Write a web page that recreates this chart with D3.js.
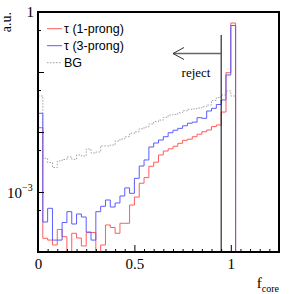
<!DOCTYPE html>
<html>
<head>
<meta charset="utf-8">
<script src="https://cdn.jsdelivr.net/npm/d3@7"></script>
<style>
  html, body { margin: 0; padding: 0; background: #fff; }
  svg { display: block; }
</style>
</head>
<body>
<svg id="chart"></svg>
<script>
// f_core histograms, 50 bins of 0.025 from 0 to 1.25
const binWidth = 0.025;
const oneProng = [0.0118, 1.69e-4, 1.58e-4, 1.31e-4, 2.37e-4, 1.80e-4, 0, 2.05e-4, 1.71e-4, 1.26e-4,
    2.11e-4, 2.11e-4, 0, 1.31e-4, 2.82e-4, 2.56e-4, 2.05e-4, 3.01e-4, 3.01e-4, 6.07e-4,
    8.25e-4, 1.40e-3, 1.74e-3, 2.68e-3, 3.14e-3, 4.14e-3, 4.82e-3, 5.25e-3, 5.78e-3, 6.48e-3,
    7.27e-3, 7.59e-3, 8.35e-3, 9.19e-3, 0.0101, 0.0108, 0.0123, 0.0131, 0.0215, 0.0973,
    0.655, 0, 0, 0, 0, 0, 0, 0, 0, 0];
const threeProng = [0.0205, 3.16e-4, 5.35e-4, 1.58e-4, 1.58e-4, 3.10e-4, 4.70e-4, 2.93e-4, 4.30e-4, 3.83e-4,
    2.15e-4, 1.58e-4, 4.70e-4, 5.78e-4, 7.36e-4, 5.62e-4, 6.56e-4, 8.58e-4, 1.17e-3, 9.51e-4,
    1.69e-3, 2.71e-3, 3.42e-3, 5.62e-3, 6.56e-3, 7.36e-3, 8.35e-3, 9.73e-3, 0.0107, 0.0115,
    0.0127, 0.0140, 0.0146, 0.0173, 0.0169, 0.0224, 0.0248, 0.0287, 0.0342, 0.0891,
    0.596, 0, 0, 0, 0, 0, 0, 0, 0, 0];
const background = [0.0398, 3.65e-3, 3.10e-3, 2.56e-3, 3.29e-3, 3.48e-3, 3.83e-3, 3.51e-3, 4.14e-3, 3.98e-3,
    5.21e-3, 4.47e-3, 4.64e-3, 5.85e-3, 5.85e-3, 6.07e-3, 7.08e-3, 7.64e-3, 8.35e-3, 9.51e-3,
    0.0101, 0.0113, 0.0121, 0.0136, 0.0149, 0.0158, 0.0176, 0.0192, 0.0196, 0.0210,
    0.0226, 0.0239, 0.0243, 0.0251, 0.0264, 0.0282, 0.0335, 0.0376, 0.0414, 0.0483,
    0.0398, 0, 0, 0, 0, 0, 0, 0, 0, 0];

const legendLabels = ['\u03c4 (1-prong)', '\u03c4 (3-prong)', 'BG'];
const cutValue = 0.95;
const xMajorTicks = [0, 0.5, 1];
const yMajorTicks = [1, 0.1, 0.01, 0.001, 0.0001];
const yMinorTicks = [0.5, 0.05, 0.005, 0.0005];

const W = 294, H = 294;
const margin = { top: 12, right: 15, bottom: 42, left: 38 };

const svg = d3.select('#chart')
    .attr('width', W)
    .attr('height', H);

const x = d3.scaleLinear()
    .domain([0, 1.25])
    .range([margin.left, W - margin.right]);

const y = d3.scaleLog()
    .domain([1e-4, 1])
    .range([H - margin.bottom, margin.top]);

const yv = v => y(Math.max(v, 1e-4));

function stepPath(values) {
    let d = `M${x(0)},${yv(values[0])}`;
    values.forEach((v, i) => {
        d += `L${x(i * binWidth)},${yv(v)}L${x((i + 1) * binWidth)},${yv(v)}`;
    });
    return d;
}

const series = [
    { label: legendLabels[0], values: oneProng, color: '#ff5c5c', dash: null },
    { label: legendLabels[1], values: threeProng, color: '#5c5cff', dash: null },
    { label: legendLabels[2], values: background, color: '#a0a0a0', dash: '1.5,1.5' }
];

// draw background first, then signal
[series[2], series[0], series[1]].forEach(s => {
    svg.append('path')
        .attr('d', stepPath(s.values))
        .attr('fill', 'none')
        .attr('stroke', s.color)
        .attr('stroke-width', 1)
        .attr('stroke-dasharray', s.dash);
});

// axes, ticks inside
const xMinor = d3.range(0, 1.2501, 0.05).filter(t => !xMajorTicks.some(m => Math.abs(m - t) < 1e-6));
svg.append('g')
    .attr('transform', `translate(0,${H - margin.bottom})`)
    .call(d3.axisBottom(x).tickValues(xMinor).tickSize(-3).tickFormat('').tickSizeOuter(0))
    .call(g => g.select('.domain').remove())
    .selectAll('line').attr('stroke', '#000');

svg.append('g')
    .attr('transform', `translate(0,${H - margin.bottom})`)
    .call(d3.axisBottom(x).tickValues(xMajorTicks).tickSize(-7).tickPadding(6).tickSizeOuter(0)
        .tickFormat(d => d === 0 ? '0' : d3.format('~g')(d)))
    .call(g => g.select('.domain').remove())
    .call(g => g.selectAll('line').attr('stroke', '#000'))
    .call(g => g.selectAll('text')
        .attr('fill', '#000')
        .style('font-family', '"Liberation Serif", "Times New Roman", serif')
        .style('font-size', '15px'));

svg.append('g')
    .attr('transform', `translate(${margin.left},0)`)
    .call(d3.axisLeft(y).tickValues(yMinorTicks).tickSize(-3).tickFormat('').tickSizeOuter(0))
    .call(g => g.select('.domain').remove())
    .selectAll('line').attr('stroke', '#000');

svg.append('g')
    .attr('transform', `translate(${margin.left},0)`)
    .call(d3.axisLeft(y).tickValues(yMajorTicks).tickSize(-6).tickFormat('').tickSizeOuter(0))
    .call(g => g.select('.domain').remove())
    .selectAll('line').attr('stroke', '#000');

// frame
svg.append('rect')
    .attr('x', margin.left)
    .attr('y', margin.top)
    .attr('width', W - margin.left - margin.right)
    .attr('height', H - margin.top - margin.bottom)
    .attr('fill', 'none')
    .attr('stroke', '#000')
    .attr('stroke-width', 2);

const serif = '"Liberation Serif", "Times New Roman", serif';
const sans = '"Liberation Sans", Arial, Helvetica, sans-serif';

// y labels
svg.append('text')
    .attr('x', margin.left - 4)
    .attr('y', y(1) + 5)
    .attr('text-anchor', 'end')
    .style('font-family', serif)
    .style('font-size', '15px')
    .text('1');

const t3 = svg.append('text')
    .attr('x', 7)
    .attr('y', y(1e-3) + 6)
    .style('font-family', serif)
    .style('font-size', '15px');
t3.append('tspan').text('10');
t3.append('tspan').attr('dy', -7).style('font-size', '10px').text('\u22123');

svg.append('text')
    .attr('transform', `translate(11,${margin.top}) rotate(-90)`)
    .attr('text-anchor', 'end')
    .style('font-family', serif)
    .style('font-size', '14px')
    .text('a.u.');

const xt = svg.append('text')
    .attr('x', W - margin.right)
    .attr('y', 288)
    .attr('text-anchor', 'end')
    .style('font-family', serif)
    .style('font-size', '15px');
xt.append('tspan').text('f');
xt.append('tspan').attr('dy', 4).style('font-size', '10px').text('core');

// cut line and arrow
svg.append('line')
    .attr('x1', x(cutValue)).attr('x2', x(cutValue))
    .attr('y1', 35).attr('y2', H - margin.bottom)
    .attr('stroke', '#000').attr('stroke-width', 1);

svg.append('line')
    .attr('x1', 173).attr('x2', x(cutValue))
    .attr('y1', 53.5).attr('y2', 53.5)
    .attr('stroke', '#666').attr('stroke-width', 1.5);

svg.append('path')
    .attr('d', 'M184,47.5L173,53.5L184,59.5')
    .attr('fill', 'none')
    .attr('stroke', '#333')
    .attr('stroke-width', 1);

svg.append('text')
    .attr('x', 196)
    .attr('y', 77)
    .attr('text-anchor', 'middle')
    .style('font-family', serif)
    .style('font-size', '13px')
    .text('reject');

// legend
const legend = svg.append('g');
series.forEach((s, i) => {
    const ly = 28.7 + i * 17;
    legend.append('line')
        .attr('x1', 47).attr('x2', 62)
        .attr('y1', ly).attr('y2', ly)
        .attr('stroke', s.color)
        .attr('stroke-width', 1)
        .attr('stroke-dasharray', s.dash);
    legend.append('text')
        .attr('x', 64)
        .attr('y', ly + 4.5)
        .style('font-family', sans)
        .style('font-size', '12.5px')
        .text(s.label);
});
</script>
</body>
</html>
